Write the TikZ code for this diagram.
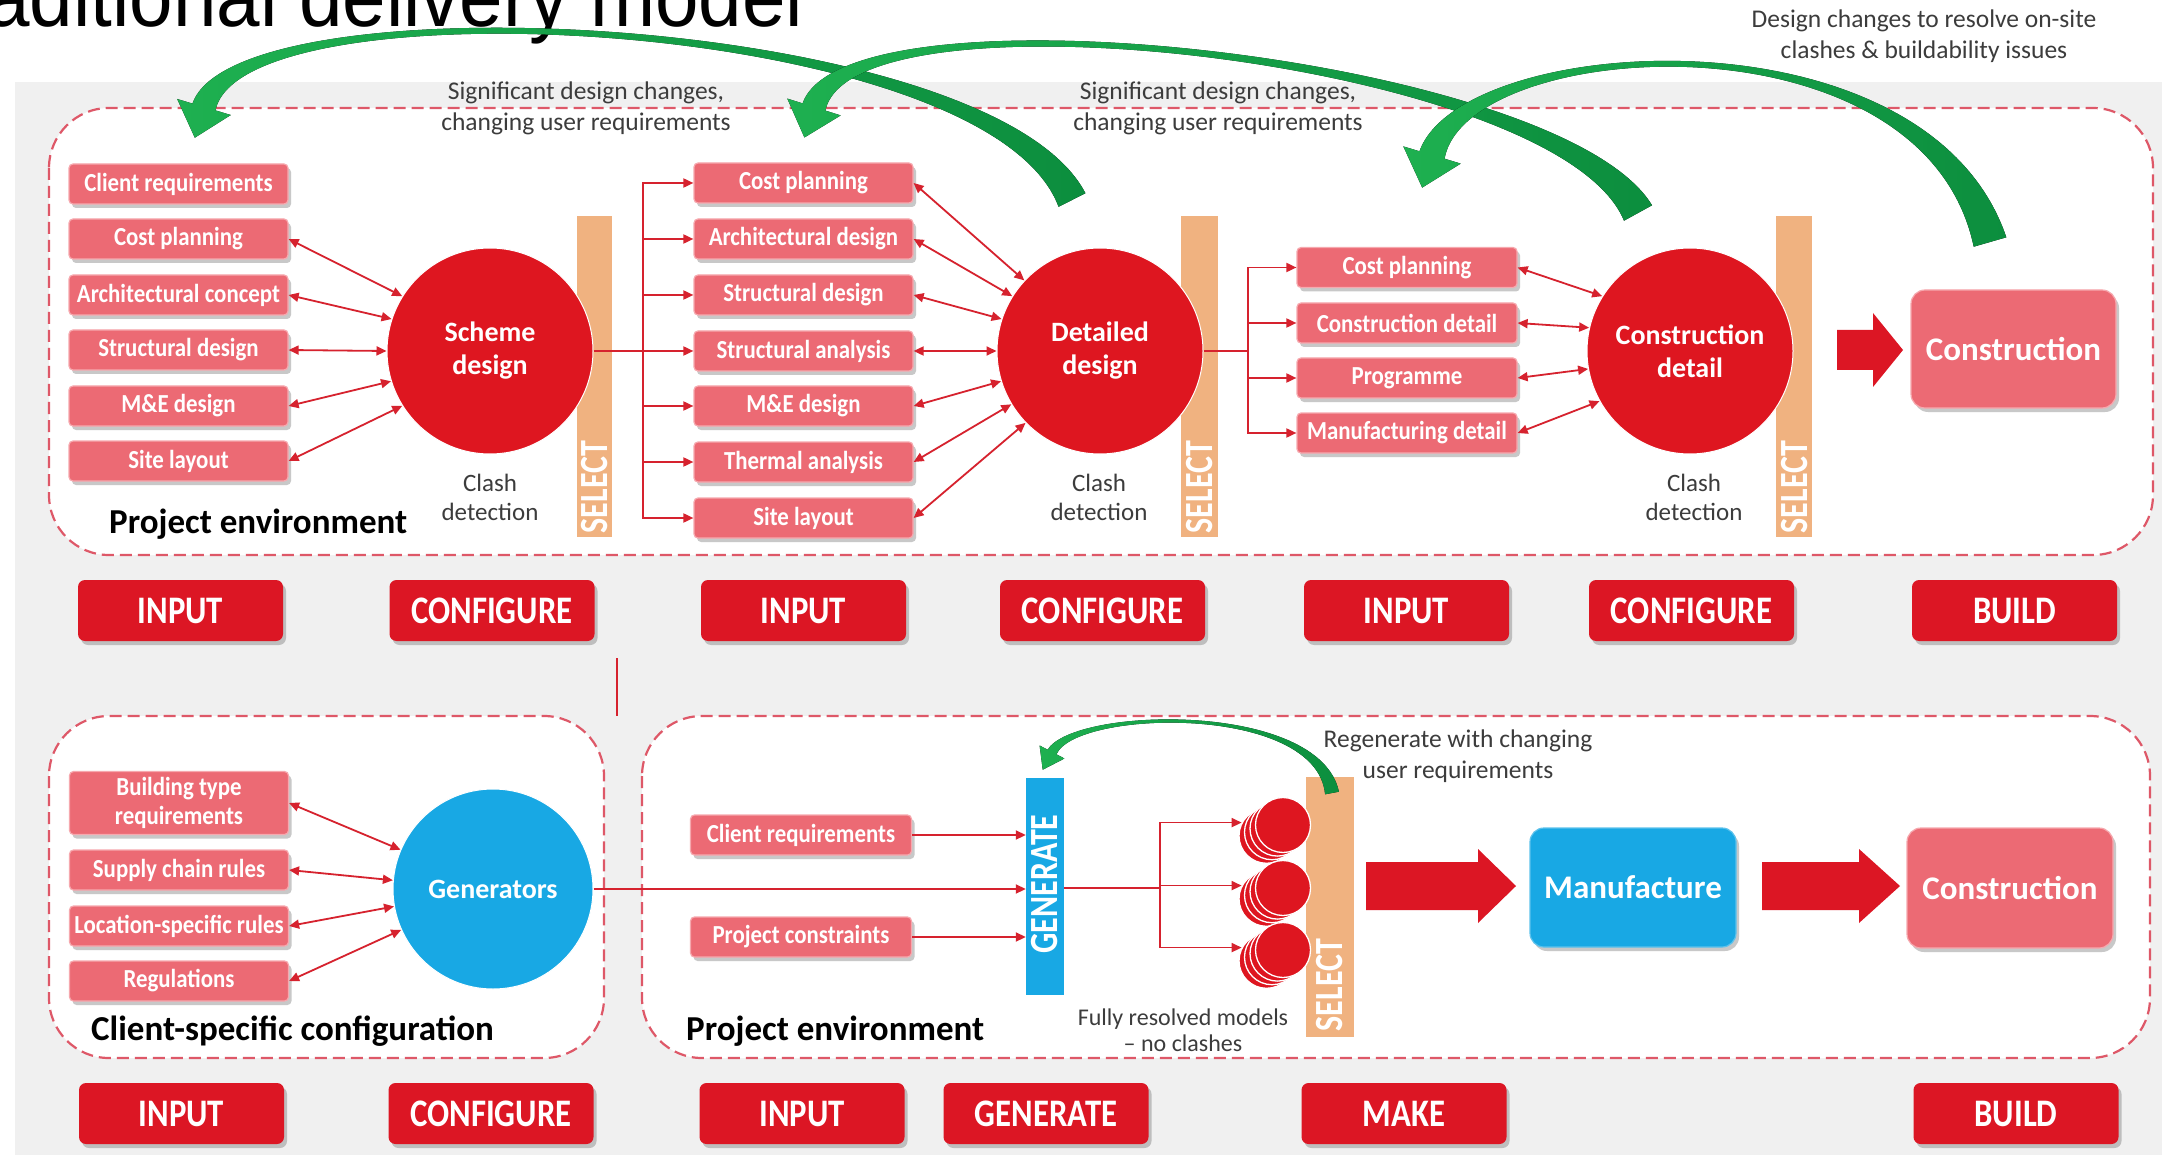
\documentclass[tikz,border=0pt]{standalone}
\usepackage{fontspec}
\setmainfont{Carlito}
\newfontfamily\boxface[FakeStretch=0.88]{Carlito}
\newfontfamily\btnface[FakeStretch=0.84]{Carlito}
\newfontfamily\barface[FakeStretch=0.8]{Carlito}
\newfontfamily\titleface[FakeStretch=0.92]{Liberation Sans}
\usetikzlibrary{arrows.meta,shadows,calc}

\definecolor{boxred}{RGB}{236,106,116}
\definecolor{boxedge}{RGB}{246,168,174}
\definecolor{btnred}{RGB}{220,22,36}
\definecolor{hubred}{RGB}{222,22,32}
\definecolor{hubblue}{RGB}{24,168,228}
\definecolor{barorange}{RGB}{240,178,128}
\definecolor{linered}{RGB}{214,34,46}
\definecolor{dashred}{RGB}{222,88,104}
\definecolor{panelgrey}{RGB}{240,240,240}
\definecolor{arcgreenL}{RGB}{30,176,80}
\definecolor{arcgreenD}{RGB}{12,142,62}
\definecolor{textgrey}{RGB}{60,60,60}

\tikzset{
  sh/.style={drop shadow={shadow xshift=3pt, shadow yshift=-4pt, opacity=0.3, fill=black!70}},
  lbl/.style={rectangle, rounded corners=4pt, fill=boxred, draw=boxedge, line width=1.2pt,
    text=white, font=\boxface\bfseries\fontsize{26}{26}\selectfont, minimum width=219pt,
    minimum height=40pt, inner sep=0pt, align=center, sh},
  btn/.style={rectangle, rounded corners=7pt, fill=btnred, text=white,
    font=\btnface\bfseries\fontsize{39}{40}\selectfont, minimum width=205pt,
    minimum height=61pt, inner sep=0pt, sh},
  hub/.style={circle, fill=hubred, draw=white, line width=1pt, text=white, align=center,
    font=\bfseries\fontsize{28}{33}\selectfont, minimum size=206pt, inner sep=0pt},
  bigbox/.style={rectangle, rounded corners=14pt, fill=boxred, draw=boxedge, line width=1.2pt,
    text=white, font=\bfseries\fontsize{33}{34}\selectfont, minimum width=205pt,
    minimum height=118pt, inner sep=0pt, sh},
  bar/.style={rectangle, fill=barorange, inner sep=0pt},
  bartext/.style={rotate=90, text=white, font=\barface\bfseries\fontsize{40}{40}\selectfont, inner sep=0pt},
  stackc/.style={circle, fill=hubred, draw=white, line width=1.3pt, minimum size=55pt, inner sep=0pt},
  zone/.style={draw=dashred, dash pattern=on 12pt off 6pt, line width=2.2pt, rounded corners=60pt, fill=white},
  link/.style={draw=linered, line width=1.8pt},
  arr/.style={link, -{Triangle[length=10pt,width=9pt]}},
  dbl/.style={link, {Triangle[length=10pt,width=9pt]}-{Triangle[length=10pt,width=9pt]}},
  note/.style={text=textgrey, align=center, font=\fontsize{25.5}{31}\selectfont, inner sep=0pt},
  clash/.style={text=textgrey, align=center, font=\fontsize{25}{29}\selectfont, inner sep=0pt},
  zonetitle/.style={anchor=base west, inner sep=0pt, font=\bfseries\fontsize{35}{36}\selectfont},
  greenarc/.style={left color=arcgreenL, right color=arcgreenD},
}

\begin{document}
\begin{tikzpicture}[x=1pt,y=-1pt]
\useasboundingbox (0,0) rectangle (2171,1155);
\clip (0,0) rectangle (2171,1155);
\fill[white] (0,0) rectangle (2171,1155);
\fill[panelgrey] (15,82) rectangle (2162,1155);

% heading
\node[anchor=base west, inner sep=0pt, font=\titleface\fontsize{85}{86}\selectfont] (title) at (-14,27) {aditional delivery model};

% dashed zones
\draw[zone] (49,108) rectangle (2153,555);
\draw[zone] (49,716) rectangle (604,1058);
\draw[zone] (642,716) rectangle (2150,1058);

% feedback arcs
\fill[greenarc] (1085.4,193.2) .. controls (991.8,12.6) and (236.5,-24.6) .. (192.5,103.6)
  -- (177.2,99) -- (194.8,137.7) -- (230.8,115) -- (215.5,110.4)
  .. controls (241.5,-19.4) and (988.2,17.4) .. (1058.6,206.8) -- cycle;
\fill[greenarc] (1652,205.3) .. controls (1561.8,55.6) and (846.5,-22.6) .. (802.6,103.4)
  -- (787.3,98.6) -- (804.4,137.5) -- (840.7,115.4) -- (825.4,110.6)
  .. controls (851.5,-17.4) and (1558.2,60.4) .. (1624,220.7) -- cycle;
\fill[greenarc] (2006.3,237.3) .. controls (1926.8,2.6) and (1461.5,32.4) .. (1419.5,151.3)
  -- (1403.3,146.4) -- (1422.2,187.6) -- (1460.7,163.6) -- (1444.5,158.7)
  .. controls (1466.5,37.6) and (1923.2,7.4) .. (1973.7,246.7) -- cycle;

% arc captions
\node[note] (cap1) at (586,108) {Significant design changes,\\changing user requirements};
\node[note] (cap2) at (1218,108) {Significant design changes,\\changing user requirements};
\node[note] (cap3) at (1924,36) {Design changes to resolve on-site\\clashes \& buildability issues};

% ---------- upper process ----------
\node[bar, minimum width=35pt, minimum height=321pt] (sel1) at (594.5,376.5) {};
\node[bar, minimum width=37pt, minimum height=321pt] (sel2) at (1199.5,376.5) {};
\node[bar, minimum width=36pt, minimum height=321pt] (sel3) at (1794,376.5) {};

\node[hub] (sd) at (490,351) {Scheme\\design};
\node[hub] (dd) at (1100,351) {Detailed\\design};
\node[hub] (cd) at (1690,351) {Construction\\detail};

\node[bartext] at (594.5,487) {SELECT};
\node[bartext] at (1199.5,487) {SELECT};
\node[bartext] at (1794,487) {SELECT};

\node[lbl] (a1) at (178.5,184) {Client requirements};
\node[lbl] (a2) at (178.5,239) {Cost planning};
\node[lbl] (a3) at (178.5,295) {Architectural concept};
\node[lbl] (a4) at (178.5,350) {Structural design};
\node[lbl] (a5) at (178.5,406) {M\&E design};
\node[lbl] (a6) at (178.5,461) {Site layout};

\node[lbl] (b1) at (803.5,183) {Cost planning};
\node[lbl] (b2) at (803.5,239) {Architectural design};
\node[lbl] (b3) at (803.5,295) {Structural design};
\node[lbl] (b4) at (803.5,351) {Structural analysis};
\node[lbl] (b5) at (803.5,406) {M\&E design};
\node[lbl] (b6) at (803.5,462) {Thermal analysis};
\node[lbl] (b7) at (803.5,518) {Site layout};

\node[lbl, minimum width=220pt] (c1) at (1407,267.5) {Cost planning};
\node[lbl, minimum width=220pt] (c2) at (1407,323) {Construction detail};
\node[lbl, minimum width=220pt] (c3) at (1407,378) {Programme};
\node[lbl, minimum width=220pt] (c4) at (1407,433) {Manufacturing detail};

\node[bigbox] (con1) at (2013.5,349) {Construction};

\coordinate (j1) at (643,351);
\coordinate (j2) at (1248,351);

\foreach \n/\a in {a2/148,a3/162,a4/180,a5/197,a6/212}
  \draw[dbl] (\n.east) -- (sd.\a);
\foreach \n/\a in {b1/137,b2/148,b3/162,b4/180,b5/197,b6/211,b7/224}
  \draw[dbl] (\n.east) -- (dd.\a);
\foreach \n/\a in {c1/148,c2/167,c3/190,c4/209}
  \draw[dbl] (\n.east) -- (cd.\a);

\draw[link] (sd.east) -- (j1);
\foreach \n in {b1,b2,b3,b4,b5,b6,b7}
  \draw[arr] (j1) |- (\n.west);
\draw[link] (dd.east) -- (j2);
\foreach \n in {c1,c2,c3,c4}
  \draw[arr] (j2) |- (\n.west);

\fill[btnred] (1837,330) -- (1873,330) -- (1873,313) -- (1903,350) -- (1873,387) -- (1873,370) -- (1837,370) -- cycle;

\node[clash] (cl1) at (490,497) {Clash\\detection};
\node[clash] (cl2) at (1099,497) {Clash\\detection};
\node[clash] (cl3) at (1694,497) {Clash\\detection};

\node[zonetitle] (zt1) at (109,533) {Project environment};

% stage buttons, upper row
\node[btn] (u1) at (180.5,610.5) {INPUT};
\node[btn] (u2) at (492,610.5) {CONFIGURE};
\node[btn] (u3) at (803.5,610.5) {INPUT};
\node[btn] (u4) at (1102.5,610.5) {CONFIGURE};
\node[btn] (u5) at (1406.5,610.5) {INPUT};
\node[btn] (u6) at (1691.5,610.5) {CONFIGURE};
\node[btn] (u7) at (2014.5,610.5) {BUILD};

\coordinate (dv1) at (617,658);
\coordinate (dv2) at (617,716);
\draw[draw=linered, line width=1.3pt] (dv1) -- (dv2);

% ---------- lower process ----------
\node[lbl, minimum height=63pt, font=\boxface\bfseries\fontsize{26}{29}\selectfont] (l1) at (179,803) {Building type\\requirements};
\node[lbl] (l2) at (179,870) {Supply chain rules};
\node[lbl] (l3) at (179,926) {Location-specific rules};
\node[lbl] (l4) at (179,981) {Regulations};

\node[hub, fill=hubblue, minimum size=200pt] (gen) at (493,889) {Generators};

\foreach \n/\a in {l1/157,l2/175,l3/190,l4/204}
  \draw[dbl] (\n.east) -- (gen.\a);

\node[zonetitle] (zt2) at (91,1040) {Client-specific configuration};

\node[lbl, minimum width=221pt] (p1) at (801,835) {Client requirements};
\node[lbl, minimum width=221pt] (p2) at (801,937) {Project constraints};

\node[rectangle, fill=hubblue, inner sep=0pt, minimum width=38pt, minimum height=217pt] (gbar) at (1045,886.5) {};
\node[bartext] at (1045,884) {GENERATE};

\node[bar, minimum width=48pt, minimum height=260pt] (sel4) at (1330,907) {};
\node[bartext] at (1330,985) {SELECT};

\draw[arr] (gen.east) -- (gen.east -| gbar.west);
\draw[arr] (p1.east) -- (p1.east -| gbar.west);
\draw[arr] (p2.east) -- (p2.east -| gbar.west);

\coordinate (j3) at (1160,888);
\draw[link] (j3 -| gbar.east) -- (j3);

\foreach \gy [count=\g] in {825,888,950} {
  \foreach \k in {3,2,1,0}
    \node[stackc] (g\g s\k) at ({1283-5.5*\k},{\gy+3.6*\k}) {};
}
\foreach \g in {1,2,3}
  \draw[arr] (j3) |- (g\g s3.152);

% regenerate loop
\fill[greenarc] (1338.9,791.7) .. controls (1319.5,700.5) and (1074,706.5) .. (1047.6,749.7)
  -- (1039.6,745.5) -- (1042.7,769.7) -- (1064.4,758.5) -- (1056.4,754.3)
  .. controls (1076,709.5) and (1316.5,703.5) .. (1325.1,794.3) -- cycle;

\node[note] (cap4) at (1458,756) {Regenerate with changing\\user requirements};
\node[note, font=\fontsize{24}{26}\selectfont] (cap5) at (1183,1030) {Fully resolved models\\– no clashes};

\fill[btnred] (1366,862) -- (1478,862) -- (1478,849) -- (1516,886) -- (1478,923) -- (1478,910) -- (1366,910) -- cycle;
\node[bigbox, fill=hubblue, draw=hubblue!70!white, minimum width=206pt, minimum height=119pt] (man) at (1633,887.5) {Manufacture};
\fill[btnred] (1762,862) -- (1859,862) -- (1859,849) -- (1900,886) -- (1859,923) -- (1859,910) -- (1762,910) -- cycle;
\node[bigbox, minimum width=206pt, minimum height=120pt] (con2) at (2010,888) {Construction};

\node[zonetitle] (zt3) at (686,1040) {Project environment};

% stage buttons, lower row
\node[btn] (w1) at (181.5,1113.5) {INPUT};
\node[btn] (w2) at (491,1113.5) {CONFIGURE};
\node[btn] (w3) at (802,1113.5) {INPUT};
\node[btn] (w4) at (1046,1113.5) {GENERATE};
\node[btn] (w5) at (1404,1113.5) {MAKE};
\node[btn] (w6) at (2016,1113.5) {BUILD};
\end{tikzpicture}
\end{document}
